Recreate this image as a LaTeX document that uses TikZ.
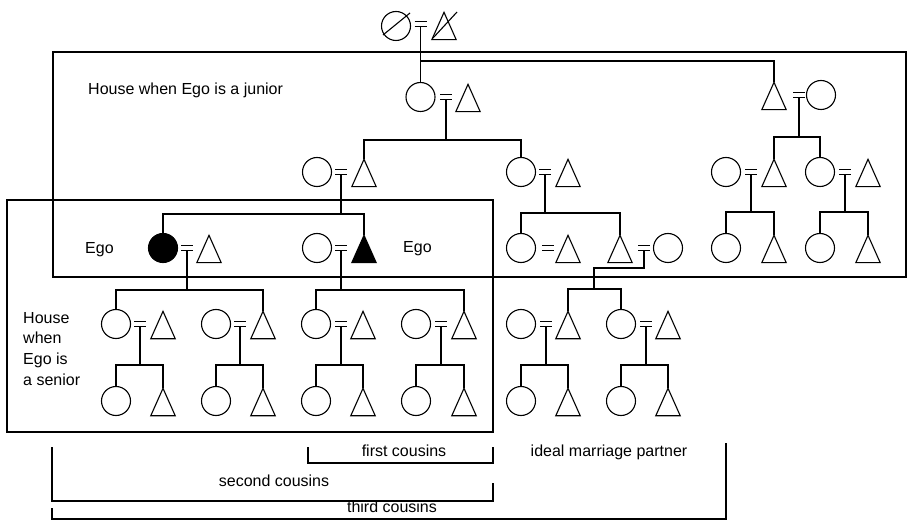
\documentclass[tikz,border=0pt]{standalone}
\usepackage{fontspec}
\setmainfont{Liberation Sans}
\newcommand{\Fem}[3][]{\node[fem,#1] (#2) at (#3) {};}
\newcommand{\Mal}[3][]{\node[malbox] (#2) at (#3) {};\draw[shp,#1] (#2.south west) -- (#2.north) -- (#2.south east) -- cycle;}
\newcommand{\Marr}[2]{\coordinate (#1) at (#2);\draw[shp] ([xshift=-6pt,yshift=2.5pt]#1) -- ([xshift=6pt,yshift=2.5pt]#1) ([xshift=-6pt,yshift=-2.5pt]#1) -- ([xshift=6pt,yshift=-2.5pt]#1);}
\begin{document}
\begin{tikzpicture}[x=1pt,y=-1pt,
  ln/.style={line width=1.1pt},
  shp/.style={line width=1.1pt},
  boxln/.style={line width=2.6pt},
  brk/.style={line width=1.2pt},
  fem/.style={circle,draw,line width=1.1pt,minimum size=29pt,inner sep=0pt},
  malbox/.style={rectangle,draw=none,minimum width=24pt,minimum height=27pt,inner sep=0pt},
  lbl/.style={font=\fontsize{16}{20}\selectfont,inner sep=0pt},
]
\useasboundingbox (0,0) rectangle (907,521);

% generation 0
\Fem{gof}{396,26}
\Mal{got}{444,26}
\Marr{mo}{420.5,24}
\draw[shp] ([shift={(-13,9)}]gof.center) -- ([shift={(14,-13)}]gof.center);
\draw[shp] ([shift={(-11,12)}]got.center) -- ([shift={(13,-14)}]got.center);

% generation 1
\Fem{Af}{420.5,97} \Marr{mA}{446,97} \Mal{At}{468,98}
\Mal{Bt}{774,96} \Marr{mB}{799,95} \Fem{Bf}{821,95}
\coordinate (so) at (420.5,61);
\draw[ln] ([yshift=-2.5pt]mo) -- (Af.north);
\draw[ln] (so) -| (Bt.north);

% generation 2
\Fem{Cf}{317,172} \Marr{mC}{341,172} \Mal{Ct}{364,173}
\Fem{Df}{521,172} \Marr{mD}{545,172} \Mal{Dt}{568,173}
\Fem{Ef}{726,172} \Marr{mE}{751,172} \Mal{Et}{774,173}
\Fem{Ff}{820,172} \Marr{mF}{845,172} \Mal{Ft}{868,173}
\coordinate (sA) at (446,140);
\coordinate (sB) at (799,137);
\draw[ln] ([yshift=-2.5pt]mA) -- (sA);
\draw[ln] (Ct.north) |- (sA) -| (Df.north);
\draw[ln] ([yshift=-2.5pt]mB) -- (sB);
\draw[ln] (Et.north) |- (sB) -| (Ff.north);

% generation 3
\Fem[fill=black]{Gf}{163,248} \Marr{mG}{187,248} \Mal{Gt}{209,249}
\Fem{Hf}{317,248} \Marr{mH}{341,248} \Mal[fill=black]{Ht}{364,249}
\Fem{If}{521,248} \Marr{mI}{548,248} \Mal{It}{568,249}
\Mal{Jt}{620,249} \Marr{mJ}{644,248} \Fem{Jf}{668,248}
\Fem{Rf}{726,248} \Mal{Rt}{774,249}
\Fem{Sf}{820,248} \Mal{St}{868,249}
\coordinate (sC) at (341,214);
\coordinate (sD) at (545,213);
\coordinate (sE) at (751,212);
\coordinate (sF) at (845,212);
\draw[ln] ([yshift=-2.5pt]mC) -- (sC);
\draw[ln] (Gf.north) |- (sC) -| (Ht.north);
\draw[ln] ([yshift=-2.5pt]mD) -- (sD);
\draw[ln] (If.north) |- (sD) -| (Jt.north);
\draw[ln] ([yshift=-2.5pt]mE) -- (sE);
\draw[ln] (Rf.north) |- (sE) -| (Rt.north);
\draw[ln] ([yshift=-2.5pt]mF) -- (sF);
\draw[ln] (Sf.north) |- (sF) -| (St.north);

% generation 4
\Fem{Kf}{116,324} \Marr{mK}{140,324} \Mal{Kt}{163,325}
\Fem{Lf}{216,324} \Marr{mL}{240,324} \Mal{Lt}{263,325}
\Fem{Mf}{316,324} \Marr{mM}{341,324} \Mal{Mt}{363,325}
\Fem{Nf}{416,324} \Marr{mN}{441,324} \Mal{Nt}{464,325}
\Fem{Of}{521,324} \Marr{mO}{546,324} \Mal{Ot}{568,325}
\Fem{Pf}{621,324} \Marr{mP}{646,324} \Mal{Pt}{668,325}
\coordinate (sG) at (187,290);
\coordinate (sH) at (341,290);
\coordinate (kJ) at (594,268);
\coordinate (sJ) at (594,289);
\draw[ln] ([yshift=-2.5pt]mG) -- (sG);
\draw[ln] (Kf.north) |- (sG) -| (Lt.north);
\draw[ln] ([yshift=-2.5pt]mH) -- (sH);
\draw[ln] (Mf.north) |- (sH) -| (Nt.north);
\draw[ln] ([yshift=-2.5pt]mJ) |- (kJ) -- (sJ);
\draw[ln] (Ot.north) |- (sJ) -| (Pf.north);

% generation 5
\Fem{Kcf}{116,401} \Mal{Kct}{163,402}
\Fem{Lcf}{216,401} \Mal{Lct}{263,402}
\Fem{Mcf}{316,401} \Mal{Mct}{363,402}
\Fem{Ncf}{416,401} \Mal{Nct}{464,402}
\Fem{Ocf}{521,401} \Mal{Oct}{568,402}
\Fem{Pcf}{621,401} \Mal{Pct}{668,402}
\foreach \m/\f/\t in {mK/Kcf/Kct,mL/Lcf/Lct,mM/Mcf/Mct,mN/Ncf/Nct,mO/Ocf/Oct,mP/Pcf/Pct}{
  \coordinate (s\m) at (\m |- 0,365);
  \draw[ln] ([yshift=-2.5pt]\m) -- (s\m);
  \draw[ln] (\f.north) |- (s\m) -| (\t.north);
}

% houses
\draw[boxln] (53,52) rectangle (906,277);
\draw[boxln] (7,200) rectangle (493,432);

% labels
\node[lbl,anchor=base west] (tJun) at (88,95) {House when Ego is a junior};
\node[lbl,anchor=base west] (tEgoA) at (85,254) {Ego};
\node[lbl,anchor=base west] (tEgoB) at (403,253) {Ego};
\node[lbl,anchor=base west] (tSa) at (23,323) {House};
\node[lbl,anchor=base west] (tSb) at (23,343) {when};
\node[lbl,anchor=base west] (tSc) at (23,364) {Ego is};
\node[lbl,anchor=base west] (tSd) at (23,385) {a senior};

% cousin brackets
\coordinate (bAa) at (308,447);
\coordinate (bAb) at (493,447);
\draw[brk] (bAa) -- ++(0,16) -| (bAb);
\coordinate (bBa) at (52,447);
\coordinate (bBb) at (493,483);
\draw[brk] (bBa) -- ++(0,54) -| (bBb);
\coordinate (bCa) at (52,508);
\coordinate (bCb) at (726,443);
\draw[brk] (bCa) -- ++(0,11) -| (bCb);
\node[lbl,anchor=base] (tFirst) at (404,456) {first cousins};
\node[lbl,anchor=base] (tIdeal) at (609,456) {ideal marriage partner};
\node[lbl,anchor=base] (tSecond) at (274,486) {second cousins};
\node[lbl,anchor=base] (tThird) at (392,512) {third cousins};
\end{tikzpicture}
\end{document}
